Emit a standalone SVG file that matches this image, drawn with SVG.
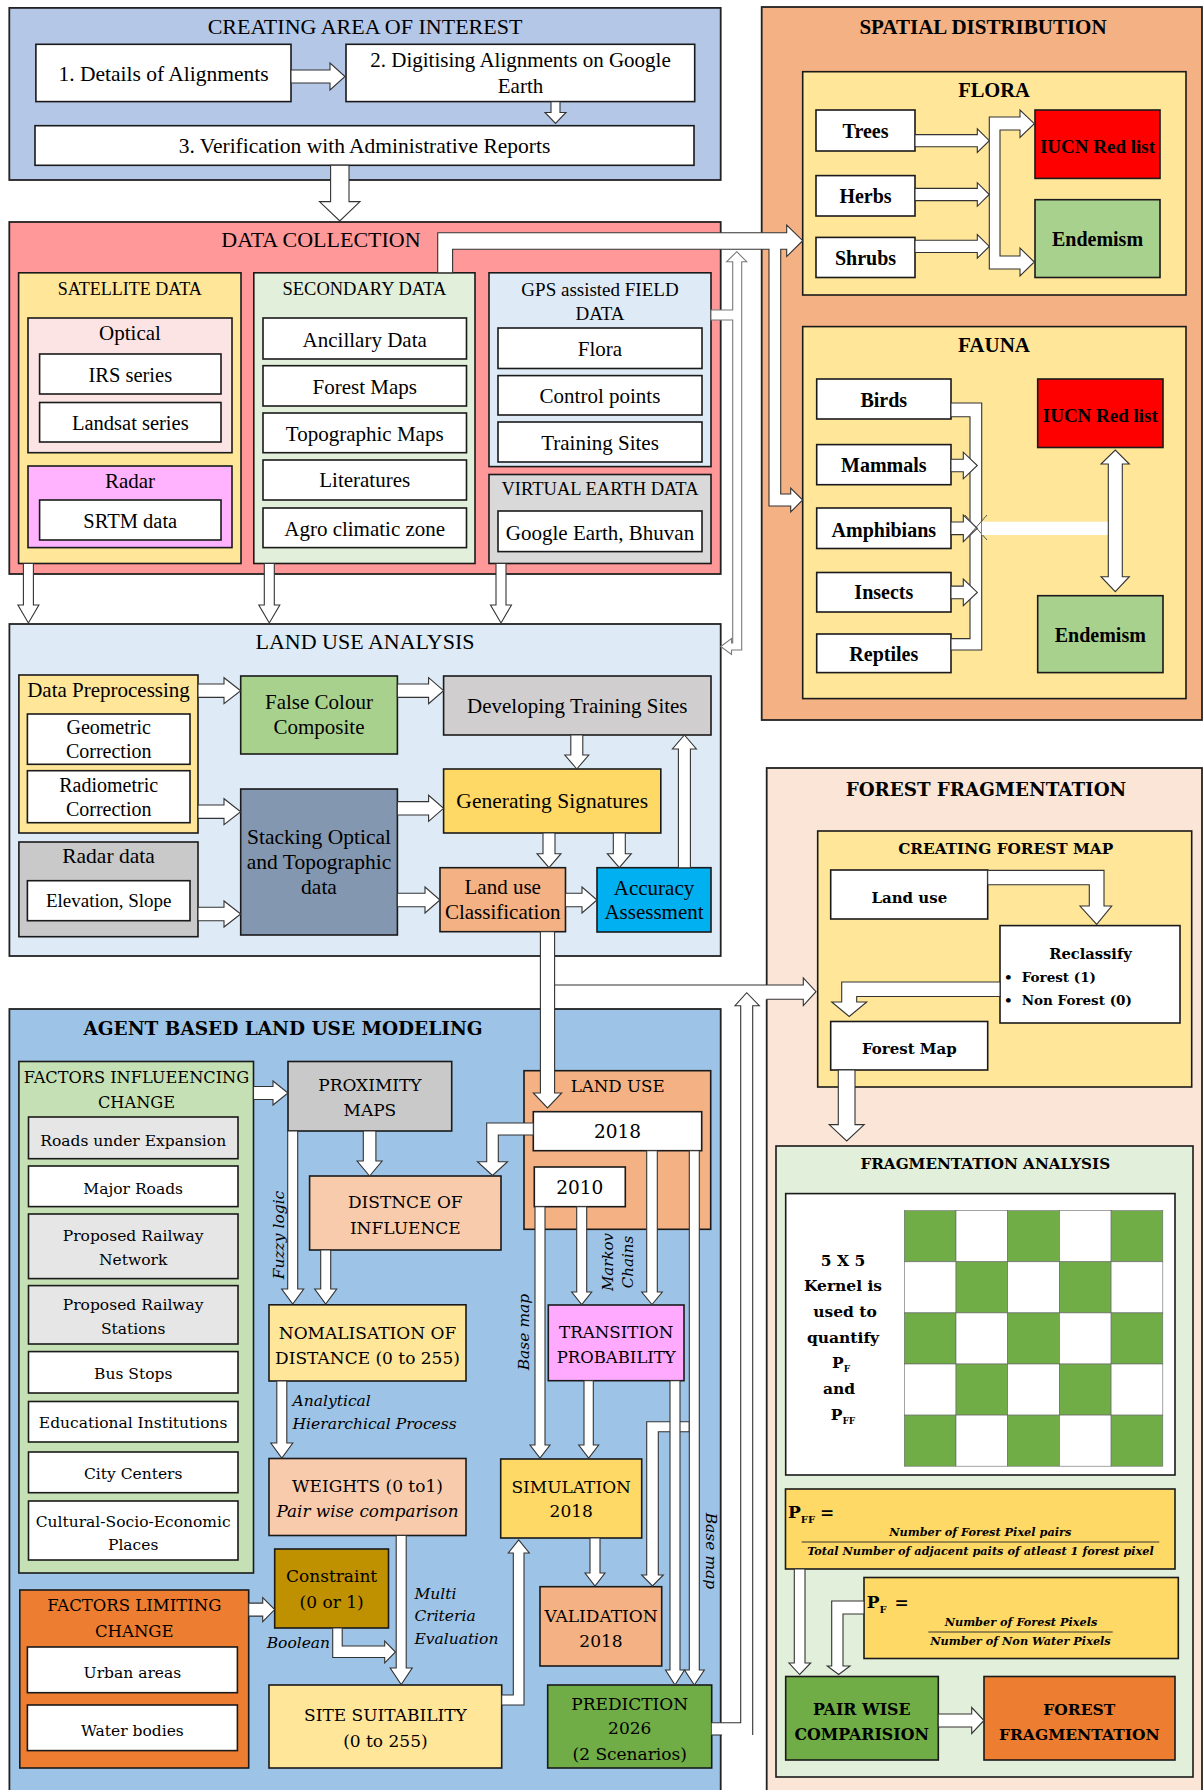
<svg xmlns="http://www.w3.org/2000/svg" width="1203" height="1790" viewBox="0 0 1203 1790">
<defs>
<style>
.sec{stroke:#222;stroke-width:1.8}
.bx{stroke:#1a1a1a;stroke-width:1.6}
.w{fill:#fff}
.ar{fill:#fff;stroke:#333;stroke-width:1.1;stroke-linejoin:miter}
.ga{fill:#fff;stroke:#7a7a7a;stroke-width:1.1}
.nf{fill:#fff;stroke:none}
.ln{fill:none;stroke:#333;stroke-width:1.1}
.cell{stroke:#666;stroke-width:0.6}
.g{fill:#70ad47}
text{fill:#000}
.t{font-family:"Liberation Serif","Times New Roman",serif}
.d{font-family:"DejaVu Serif",serif}
.c{text-anchor:middle}
.i{font-style:italic}
.b{font-weight:bold}
</style>
</defs>
<rect width="1203" height="1790" fill="#fff"/>

<!-- ============ CREATING AREA OF INTEREST ============ -->
<g id="sec-aoi"><rect class="sec" x="9.3" y="7.9" width="711.4" height="172.1" fill="#b4c7e7"/><text class="t c" x="365" y="33.5" font-size="22">CREATING AREA OF INTEREST</text></g>
<g id="n-details"><rect class="bx w" x="35.9" y="44.3" width="255.1" height="57.3"/><text class="t c" x="163.5" y="80.5" font-size="21.5">1. Details of Alignments</text></g>
<g id="n-digitising"><rect class="bx w" x="346" y="44.3" width="348.7" height="57.3"/><text class="t c" x="520.5" y="67" font-size="21">2. Digitising Alignments on Google</text><text class="t c" x="520.5" y="92.5" font-size="21">Earth</text></g>
<g id="n-verification"><rect class="bx w" x="35" y="125.7" width="659" height="39.6"/><text class="t c" x="364.5" y="152.5" font-size="21.5">3. Verification with Administrative Reports</text></g>

<!-- ============ DATA COLLECTION ============ -->
<g id="sec-data"><rect class="sec" x="9.3" y="222" width="711.4" height="352" fill="#ff9999"/><text class="t c" x="321" y="247" font-size="22">DATA COLLECTION</text></g>
<g id="n-satellite"><rect class="bx" x="18.6" y="272.8" width="222.4" height="290.7" fill="#ffe699"/><text class="t c" x="129.8" y="294.6" font-size="18">SATELLITE DATA</text></g>
<g id="n-optical"><rect class="bx" x="28" y="318" width="204" height="134.7" fill="#fce4e4"/><text class="t c" x="130" y="340" font-size="21">Optical</text></g>
<g id="n-irs"><rect class="bx w" x="39.6" y="354" width="181.4" height="40"/><text class="t c" x="130.3" y="381.5" font-size="20.5">IRS series</text></g>
<g id="n-landsat"><rect class="bx w" x="39.6" y="402.5" width="181.4" height="39.5"/><text class="t c" x="130.3" y="430" font-size="20.5">Landsat series</text></g>
<g id="n-radar"><rect class="bx" x="28" y="466" width="204" height="81.6" fill="#ffb3ff"/><text class="t c" x="130" y="487.5" font-size="21">Radar</text></g>
<g id="n-srtm"><rect class="bx w" x="39.6" y="500" width="181.4" height="40"/><text class="t c" x="130.3" y="528" font-size="20.5">SRTM data</text></g>
<g id="n-secondary"><rect class="bx" x="253.8" y="272.8" width="221.2" height="290.7" fill="#e2efda"/><text class="t c" x="364.4" y="294.6" font-size="18.5">SECONDARY DATA</text></g>
<g id="n-ancillary"><rect class="bx w" x="263" y="318" width="203.5" height="41"/><text class="t c" x="364.7" y="346.8" font-size="21">Ancillary Data</text></g>
<g id="n-forestmaps"><rect class="bx w" x="263" y="365.7" width="203.5" height="40.3"/><text class="t c" x="364.7" y="394" font-size="21">Forest Maps</text></g>
<g id="n-topo"><rect class="bx w" x="263" y="413" width="203.5" height="39.7"/><text class="t c" x="364.7" y="441" font-size="21">Topographic Maps</text></g>
<g id="n-lit"><rect class="bx w" x="263" y="460" width="203.5" height="40"/><text class="t c" x="364.7" y="487" font-size="21">Literatures</text></g>
<g id="n-agro"><rect class="bx w" x="263" y="508" width="203.5" height="39.6"/><text class="t c" x="364.7" y="535.8" font-size="21">Agro climatic zone</text></g>
<g id="n-gps"><rect class="bx" x="489" y="272.8" width="222" height="193.8" fill="#deebf7"/><text class="t c" x="600" y="295.8" font-size="19">GPS assisted FIELD</text><text class="t c" x="600" y="320.3" font-size="19">DATA</text></g>
<g id="n-flora-pt"><rect class="bx w" x="498" y="328" width="204" height="40.5"/><text class="t c" x="600" y="356" font-size="21">Flora</text></g>
<g id="n-control"><rect class="bx w" x="498" y="375.6" width="204" height="39.4"/><text class="t c" x="600" y="403.3" font-size="21">Control points</text></g>
<g id="n-training"><rect class="bx w" x="498" y="422" width="204" height="40"/><text class="t c" x="600" y="450" font-size="21">Training Sites</text></g>
<g id="n-virtual"><rect class="bx" x="489" y="474.5" width="222" height="89" fill="#d9d9d9"/><text class="t c" x="600" y="495.4" font-size="18.5">VIRTUAL EARTH DATA</text></g>
<g id="n-google"><rect class="bx w" x="498" y="511" width="204" height="40.6"/><text class="t c" x="600" y="539.7" font-size="21">Google Earth, Bhuvan</text></g>

<!-- ============ SPATIAL DISTRIBUTION ============ -->
<g id="sec-spatial"><rect class="sec" x="761.7" y="7" width="440.3" height="713" fill="#f4b183"/><text class="t c b" x="983" y="34" font-size="21">SPATIAL DISTRIBUTION</text></g>
<g id="n-flora"><rect class="bx" x="802.7" y="71.7" width="383.3" height="223.3" fill="#ffe699"/><text class="t c b" x="994" y="96.8" font-size="20.5">FLORA</text></g>
<g id="n-trees"><rect class="bx w" x="816" y="110" width="99" height="41"/><text class="t c b" x="865.5" y="138.3" font-size="20">Trees</text></g>
<g id="n-herbs"><rect class="bx w" x="816" y="175.6" width="99" height="40.4"/><text class="t c b" x="865.5" y="203" font-size="20">Herbs</text></g>
<g id="n-shrubs"><rect class="bx w" x="816" y="237.4" width="99" height="40.1"/><text class="t c b" x="865.5" y="265.3" font-size="20">Shrubs</text></g>
<g id="n-iucn-flora"><rect class="bx" x="1035" y="110" width="125" height="68.4" fill="#ff0000"/><text class="t c b" x="1097.5" y="152.5" font-size="19">IUCN Red list</text></g>
<g id="n-end-flora"><rect class="bx" x="1035" y="199.7" width="125" height="77.8" fill="#a9d18e"/><text class="t c b" x="1097.5" y="246.4" font-size="20">Endemism</text></g>
<g id="n-fauna"><rect class="bx" x="802.7" y="326.6" width="383.3" height="372" fill="#ffe699"/><text class="t c b" x="994" y="351.6" font-size="21">FAUNA</text></g>
<g id="n-birds"><rect class="bx w" x="816.7" y="379" width="134.3" height="40"/><text class="t c b" x="883.8" y="406.9" font-size="20">Birds</text></g>
<g id="n-mammals"><rect class="bx w" x="816.7" y="444.6" width="134.3" height="40.1"/><text class="t c b" x="883.8" y="472" font-size="20">Mammals</text></g>
<g id="n-amphibians"><rect class="bx w" x="816.7" y="508" width="134.3" height="40.5"/><text class="t c b" x="883.8" y="536.7" font-size="20">Amphibians</text></g>
<g id="n-insects"><rect class="bx w" x="816.7" y="572.5" width="134.3" height="39.5"/><text class="t c b" x="883.8" y="599.4" font-size="20">Insects</text></g>
<g id="n-reptiles"><rect class="bx w" x="816.7" y="634" width="134.3" height="38.6"/><text class="t c b" x="883.8" y="660.8" font-size="20">Reptiles</text></g>
<g id="n-iucn-fauna"><rect class="bx" x="1037.7" y="379" width="125.3" height="68.5" fill="#ff0000"/><text class="t c b" x="1100.3" y="421.5" font-size="19">IUCN Red list</text></g>
<g id="n-end-fauna"><rect class="bx" x="1037.7" y="595.7" width="125.3" height="76.9" fill="#a9d18e"/><text class="t c b" x="1100.3" y="642" font-size="20">Endemism</text></g>

<!-- ============ LAND USE ANALYSIS ============ -->
<g id="sec-lua"><rect class="sec" x="9.4" y="624" width="711.3" height="332" fill="#deebf7"/><text class="t c" x="365" y="649.3" font-size="22">LAND USE ANALYSIS</text></g>
<g id="n-preproc"><rect class="bx" x="18.9" y="675" width="179.1" height="158" fill="#ffe699"/><text class="t c" x="108.5" y="696.7" font-size="21">Data Preprocessing</text></g>
<g id="n-geometric"><rect class="bx w" x="27.4" y="714" width="162.6" height="50.3"/><text class="t c" x="108.7" y="734.3" font-size="20">Geometric</text><text class="t c" x="108.7" y="757.7" font-size="20">Correction</text></g>
<g id="n-radiometric"><rect class="bx w" x="27.4" y="770.7" width="162.6" height="52"/><text class="t c" x="108.7" y="792.3" font-size="20">Radiometric</text><text class="t c" x="108.7" y="815.7" font-size="20">Correction</text></g>
<g id="n-radardata"><rect class="bx" x="18.9" y="842" width="179.1" height="94.7" fill="#c9c9c9"/><text class="t c" x="108.5" y="863.3" font-size="21.5">Radar data</text></g>
<g id="n-elevation"><rect class="bx w" x="27.4" y="880.7" width="162.6" height="40"/><text class="t c" x="108.7" y="907.3" font-size="19">Elevation, Slope</text></g>
<g id="n-fcc"><rect class="bx" x="240.7" y="676" width="156.7" height="78" fill="#a9d18e"/><text class="t c" x="319" y="709.3" font-size="21">False Colour</text><text class="t c" x="319" y="734" font-size="21">Composite</text></g>
<g id="n-stacking"><rect class="bx" x="240.7" y="789" width="156.7" height="146" fill="#8497b0"/><text class="t c" x="319" y="844" font-size="21.5">Stacking Optical</text><text class="t c" x="319" y="869.3" font-size="21.5">and Topographic</text><text class="t c" x="319" y="894" font-size="21.5">data</text></g>
<g id="n-dts"><rect class="bx" x="443.6" y="676" width="267.4" height="59" fill="#d0cece"/><text class="t c" x="577.3" y="713.3" font-size="21">Developing Training Sites</text></g>
<g id="n-gensig"><rect class="bx" x="443.6" y="769" width="217.2" height="64" fill="#ffd966"/><text class="t c" x="552.2" y="808.3" font-size="21.5">Generating Signatures</text></g>
<g id="n-luc"><rect class="bx" x="440" y="867.7" width="125.5" height="64" fill="#f4b183"/><text class="t c" x="502.7" y="894" font-size="21">Land use</text><text class="t c" x="502.7" y="919.3" font-size="21">Classification</text></g>
<g id="n-accuracy"><rect class="bx" x="597" y="867.7" width="114" height="64.3" fill="#00b0f0"/><text class="t c" x="654" y="895" font-size="21">Accuracy</text><text class="t c" x="654" y="919.3" font-size="21">Assessment</text></g>

<!-- ============ AGENT BASED LAND USE MODELING ============ -->
<g id="sec-agent"><rect class="sec" x="9.4" y="1009" width="711.3" height="790" fill="#9dc3e6"/><text class="d c b" x="283" y="1035.3" font-size="18.5">AGENT BASED LAND USE MODELING</text></g>
<g id="n-fic"><rect class="bx" x="18.9" y="1061.5" width="234.6" height="511.5" fill="#c5e0b4"/><text class="d c" x="136.5" y="1083" font-size="16.2">FACTORS INFLUEENCING</text><text class="d c" x="136.5" y="1108.3" font-size="16.2">CHANGE</text></g>
<g id="n-roads-exp"><rect class="bx" x="28.5" y="1117" width="209.5" height="41.7" fill="#e7e6e6"/><text class="d c" x="133.2" y="1146" font-size="15.5">Roads under Expansion</text></g>
<g id="n-major-roads"><rect class="bx w" x="28.5" y="1166" width="209.5" height="40.6"/><text class="d c" x="133.2" y="1194" font-size="15.5">Major Roads</text></g>
<g id="n-rail-net"><rect class="bx" x="28.5" y="1214" width="209.5" height="64.6" fill="#e7e6e6"/><text class="d c" x="133.2" y="1240.8" font-size="15.5">Proposed Railway</text><text class="d c" x="133.2" y="1264.5" font-size="15.5">Network</text></g>
<g id="n-rail-st"><rect class="bx" x="28.5" y="1285.6" width="209.5" height="58.4" fill="#e7e6e6"/><text class="d c" x="133.2" y="1309.8" font-size="15.5">Proposed Railway</text><text class="d c" x="133.2" y="1333.5" font-size="15.5">Stations</text></g>
<g id="n-bus"><rect class="bx w" x="28.5" y="1351.6" width="209.5" height="41.4"/><text class="d c" x="133.2" y="1379.4" font-size="15.5">Bus Stops</text></g>
<g id="n-edu"><rect class="bx w" x="28.5" y="1401.5" width="209.5" height="40.5"/><text class="d c" x="133.2" y="1428.2" font-size="15.5">Educational Institutions</text></g>
<g id="n-city"><rect class="bx w" x="28.5" y="1452" width="209.5" height="40.7"/><text class="d c" x="133.2" y="1478.6" font-size="15.5">City Centers</text></g>
<g id="n-cultural"><rect class="bx w" x="28.5" y="1501" width="209.5" height="59"/><text class="d c" x="133.2" y="1526.5" font-size="15.5">Cultural-Socio-Economic</text><text class="d c" x="133.2" y="1550" font-size="15.5">Places</text></g>
<g id="n-flc"><rect class="bx" x="19.8" y="1590" width="228.9" height="178" fill="#ed7d31"/><text class="d c" x="134.3" y="1611" font-size="16.5">FACTORS LIMITING</text><text class="d c" x="134.3" y="1637.3" font-size="16.5">CHANGE</text></g>
<g id="n-urban"><rect class="bx w" x="27.4" y="1647" width="210" height="45.7"/><text class="d c" x="132.4" y="1677.6" font-size="15.5">Urban areas</text></g>
<g id="n-water"><rect class="bx w" x="27.4" y="1705" width="210" height="45.6"/><text class="d c" x="132.4" y="1735.5" font-size="15.5">Water bodies</text></g>
<g id="n-proximity"><rect class="bx" x="288" y="1061.5" width="163.7" height="69.5" fill="#c9c9c9"/><text class="d c" x="369.9" y="1090.7" font-size="17">PROXIMITY</text><text class="d c" x="369.9" y="1115.9" font-size="17">MAPS</text></g>
<g id="n-distance"><rect class="bx" x="309.6" y="1176" width="191.4" height="74" fill="#f8cbad"/><text class="d c" x="405.3" y="1208" font-size="17">DISTNCE OF</text><text class="d c" x="405.3" y="1234.3" font-size="17">INFLUENCE</text></g>
<g id="n-normal"><rect class="bx" x="269" y="1304.8" width="197" height="76.2" fill="#ffe699"/><text class="d c" x="367.5" y="1338.6" font-size="17">NOMALISATION OF</text><text class="d c" x="367.5" y="1363.7" font-size="17">DISTANCE (0 to 255)</text></g>
<g id="n-weights"><rect class="bx" x="269" y="1458.5" width="197" height="77" fill="#f8cbad"/><text class="d c" x="367.5" y="1492.2" font-size="17">WEIGHTS (0 to1)</text><text class="d c i" x="367.5" y="1517.4" font-size="16.8">Pair wise comparison</text></g>
<g id="n-constraint"><rect class="bx" x="274.7" y="1549" width="113.8" height="79" fill="#bf9000"/><text class="d c" x="331.6" y="1581.9" font-size="17">Constraint</text><text class="d c" x="331.6" y="1608" font-size="17">(0 or 1)</text></g>
<g id="n-site"><rect class="bx" x="269" y="1685" width="232.7" height="83" fill="#ffe699"/><text class="d c" x="385.4" y="1721.4" font-size="17">SITE SUITABILITY</text><text class="d c" x="385.4" y="1746.6" font-size="17">(0 to 255)</text></g>
<g id="n-landuse"><rect class="bx" x="524" y="1070.7" width="186.7" height="158.6" fill="#f4b183"/><text class="d c" x="617.7" y="1091.7" font-size="16.7">LAND USE</text></g>
<g id="n-2018"><rect class="bx w" x="533.3" y="1111.7" width="168.4" height="39"/><text class="d c" x="617.5" y="1138.3" font-size="18.5">2018</text></g>
<g id="n-2010"><rect class="bx w" x="534.3" y="1167" width="91" height="39.7"/><text class="d c" x="579.8" y="1194" font-size="18.5">2010</text></g>
<g id="n-transition"><rect class="bx" x="548.3" y="1305" width="135.7" height="75.7" fill="#ffaaff"/><text class="d c" x="616.2" y="1338.3" font-size="16.7">TRANSITION</text><text class="d c" x="616.2" y="1363.3" font-size="16.5">PROBABILITY</text></g>
<g id="n-simulation"><rect class="bx" x="500.7" y="1459" width="141" height="79" fill="#ffd966"/><text class="d c" x="571.2" y="1493.3" font-size="17">SIMULATION</text><text class="d c" x="571.2" y="1517.3" font-size="17">2018</text></g>
<g id="n-validation"><rect class="bx" x="540" y="1586.7" width="121.7" height="79.3" fill="#f4b183"/><text class="d c" x="601" y="1621.7" font-size="17">VALIDATION</text><text class="d c" x="601" y="1646.7" font-size="17">2018</text></g>
<g id="n-prediction"><rect class="bx" x="547.7" y="1685" width="164" height="83" fill="#70ad47"/><text class="d c" x="629.7" y="1710" font-size="17">PREDICTION</text><text class="d c" x="629.7" y="1734" font-size="17">2026</text><text class="d c" x="629.7" y="1760" font-size="17">(2 Scenarios)</text></g>

<!-- ============ FOREST FRAGMENTATION ============ -->
<g id="sec-ff"><rect class="sec" x="766.7" y="768" width="435.3" height="1030" fill="#fbe5d6"/><text class="d c b" x="986" y="796" font-size="18.3">FOREST FRAGMENTATION</text></g>
<g id="n-cfm"><rect class="bx" x="817.7" y="831" width="374" height="256" fill="#ffe699"/><text class="d c b" x="1005.7" y="854" font-size="15.3">CREATING FOREST MAP</text></g>
<g id="n-fm-landuse"><rect class="bx w" x="830.7" y="870" width="157" height="49"/><text class="d c b" x="909.3" y="903.2" font-size="15">Land use</text></g>
<g id="n-reclassify"><rect class="bx w" x="1000" y="925.6" width="180" height="97.4"/><text class="d c b" x="1090.5" y="959" font-size="14.7">Reclassify</text><text class="d b" x="1004" y="982" font-size="13.5">•</text><text class="d b" x="1021.7" y="982" font-size="13.5">Forest (1)</text><text class="d b" x="1004" y="1005" font-size="13.5">•</text><text class="d b" x="1021.7" y="1005" font-size="13.5">Non Forest (0)</text></g>
<g id="n-forestmap"><rect class="bx w" x="830.7" y="1021.5" width="157" height="48.5"/><text class="d c b" x="909.3" y="1054.3" font-size="15">Forest Map</text></g>
<g id="n-fa"><rect class="bx" x="776" y="1146" width="417" height="631" fill="#e2efda"/><text class="d c b" x="985.3" y="1168.6" font-size="15.2">FRAGMENTATION ANALYSIS</text></g>
<g id="n-kernel">
<rect class="bx w" x="785.7" y="1193.6" width="389.3" height="281.4"/>
<text class="d c b" x="843" y="1266" font-size="15.5">5 X 5</text>
<text class="d c b" x="843" y="1291" font-size="15.5">Kernel is</text>
<text class="d c b" x="845" y="1317" font-size="15.5">used to</text>
<text class="d c b" x="843" y="1343" font-size="15.5">quantify</text>
<text class="d c b" x="841" y="1368" font-size="15.5">P<tspan font-size="9" dy="4">F</tspan></text>
<text class="d c b" x="839" y="1394" font-size="15.5">and</text>
<text class="d c b" x="843" y="1420" font-size="15.5">P<tspan font-size="9" dy="4">FF</tspan></text>
<rect class="cell g" x="904.3" y="1210.7" width="51.7" height="51.1"/><rect class="cell w" x="956" y="1210.7" width="51.7" height="51.1"/><rect class="cell g" x="1007.7" y="1210.7" width="51.7" height="51.1"/><rect class="cell w" x="1059.4" y="1210.7" width="51.7" height="51.1"/><rect class="cell g" x="1111.1" y="1210.7" width="51.7" height="51.1"/>
<rect class="cell w" x="904.3" y="1261.8" width="51.7" height="51.1"/><rect class="cell g" x="956" y="1261.8" width="51.7" height="51.1"/><rect class="cell w" x="1007.7" y="1261.8" width="51.7" height="51.1"/><rect class="cell g" x="1059.4" y="1261.8" width="51.7" height="51.1"/><rect class="cell w" x="1111.1" y="1261.8" width="51.7" height="51.1"/>
<rect class="cell g" x="904.3" y="1312.9" width="51.7" height="51.1"/><rect class="cell w" x="956" y="1312.9" width="51.7" height="51.1"/><rect class="cell g" x="1007.7" y="1312.9" width="51.7" height="51.1"/><rect class="cell w" x="1059.4" y="1312.9" width="51.7" height="51.1"/><rect class="cell g" x="1111.1" y="1312.9" width="51.7" height="51.1"/>
<rect class="cell w" x="904.3" y="1364" width="51.7" height="51.1"/><rect class="cell g" x="956" y="1364" width="51.7" height="51.1"/><rect class="cell w" x="1007.7" y="1364" width="51.7" height="51.1"/><rect class="cell g" x="1059.4" y="1364" width="51.7" height="51.1"/><rect class="cell w" x="1111.1" y="1364" width="51.7" height="51.1"/>
<rect class="cell g" x="904.3" y="1415.1" width="51.7" height="51.1"/><rect class="cell w" x="956" y="1415.1" width="51.7" height="51.1"/><rect class="cell g" x="1007.7" y="1415.1" width="51.7" height="51.1"/><rect class="cell w" x="1059.4" y="1415.1" width="51.7" height="51.1"/><rect class="cell g" x="1111.1" y="1415.1" width="51.7" height="51.1"/>
</g>
<g id="n-pff"><rect class="bx" x="785.5" y="1489" width="389.5" height="80" fill="#ffd966"/>
<text class="d b" x="788" y="1518" font-size="17">P<tspan font-size="10" dy="5">FF</tspan><tspan dy="-5" dx="5">=</tspan></text>
<text class="d c b i" x="980.3" y="1536" font-size="11.3">Number of Forest Pixel pairs</text>
<line class="ln" x1="801.7" y1="1542" x2="1159.3" y2="1542" stroke="#000"/>
<text class="d c b i" x="980.5" y="1554.5" font-size="11.3">Total Number of adjacent paits of atleast 1 forest pixel</text></g>
<g id="n-pf"><rect class="bx" x="864" y="1577.5" width="314.3" height="81" fill="#ffd966"/>
<text class="d b" x="866.7" y="1608" font-size="17">P<tspan font-size="10" dy="5">F</tspan><tspan dy="-5" dx="8">=</tspan></text>
<text class="d c b i" x="1021" y="1626" font-size="11.3">Number of Forest Pixels</text>
<line class="ln" x1="928.3" y1="1632" x2="1112.7" y2="1632" stroke="#000"/>
<text class="d c b i" x="1020.5" y="1644.5" font-size="11.3">Number of Non Water Pixels</text></g>
<g id="n-pairwise"><rect class="bx" x="785.7" y="1676.5" width="152.6" height="83.5" fill="#70ad47"/><text class="d c b" x="861.7" y="1715" font-size="15.8">PAIR WISE</text><text class="d c b" x="861.7" y="1740" font-size="15.8">COMPARISION</text></g>
<g id="n-forestfrag"><rect class="bx" x="984" y="1676.5" width="191" height="83.5" fill="#ed7d31"/><text class="d c b" x="1079.3" y="1715" font-size="15.5">FOREST</text><text class="d c b" x="1079.3" y="1740" font-size="15.5">FRAGMENTATION</text></g>

<!-- ============ CONNECTORS ============ -->
<g id="connectors">
<!-- area of interest -->
<polygon class="ar" points="291,70 330,70 330,63 345,76.5 330,90 330,83 291,83"/>
<polygon class="ar" points="551,101.6 560,101.6 560,112.5 566,112.5 555.5,123.5 545,112.5 551,112.5"/>
<polygon class="ar" points="330.6,165.3 349,165.3 349,201.6 360,201.6 339.8,221 319.5,201.6 330.6,201.6"/>
<!-- data collection to land use analysis -->
<polygon class="ar" points="23.4,563.5 33.4,563.5 33.4,605 38.9,605 28.4,623 17.9,605 23.4,605"/>
<polygon class="ar" points="264.3,563.5 274.3,563.5 274.3,605 279.8,605 269.3,623 258.8,605 264.3,605"/>
<polygon class="ar" points="496,563.5 506,563.5 506,605 511.5,605 501,623 490.5,605 496,605"/>
<!-- secondary data to flora & fauna -->
<polygon class="ar" points="437.7,272.8 437.7,232.7 786.7,232.7 786.7,225 802.7,240.7 786.7,256.5 786.7,249.3 780.7,249.3 780.7,494 790.7,494 790.7,488 802.7,500 790.7,512 790.7,506 769,506 769,249.3 452.6,249.3 452.6,272.8"/>
<!-- GPS field data to land use analysis (two way) -->
<polygon class="ga" points="736.7,251.7 746.7,261.7 741.7,261.7 741.7,650 731.5,650 731.5,654.5 720.7,646.5 731.5,638.5 731.5,643 732.7,643 732.7,320 711,320 711,310 732.7,310 732.7,261.7 726.7,261.7"/>
<!-- flora -->
<polygon class="ar" points="915,134.6 977.3,134.6 977.3,128.9 989.3,140.7 977.3,152.5 977.3,146.8 915,146.8"/>
<polygon class="ar" points="915,188.4 977.3,188.4 977.3,182.7 989.3,194.5 977.3,206.3 977.3,200.6 915,200.6"/>
<polygon class="ar" points="915,240.3 977.3,240.3 977.3,234.6 989.3,246.4 977.3,258.2 977.3,252.5 915,252.5"/>
<polygon class="ar" points="989.3,117 1020,117 1020,110 1034.3,123.7 1020,137.5 1020,130 1000,130 1000,256 1020,256 1020,248 1034.3,262 1020,276 1020,269 989.3,269"/>
<!-- fauna -->
<polygon class="ar" points="951,403 981.7,403 981.7,650 951,650 951,638.6 970,638.6 970,416.7 951,416.7"/>
<polygon class="ar" points="951,459.2 963.3,459.2 963.3,452.2 977.3,465.5 963.3,478.8 963.3,471.8 951,471.8"/>
<polygon class="ar" points="951,522 963.3,522 963.3,515 977.3,528.3 963.3,541.6 963.3,534.6 951,534.6"/>
<polygon class="ar" points="951,586.1 963.3,586.1 963.3,579.1 977.3,592.4 963.3,605.7 963.3,598.7 951,598.7"/>
<line x1="965" y1="515" x2="987" y2="540" stroke="#555" stroke-width="1"/>
<line x1="965" y1="540" x2="987" y2="515" stroke="#555" stroke-width="1"/>
<rect class="nf" x="981.7" y="521.7" width="126.6" height="13.3"/>
<polygon class="ar" points="1108.3,464 1101,464 1115.3,450 1129.3,464 1122.3,464 1122.3,576.7 1129.3,576.7 1115.3,591.7 1101,576.7 1108.3,576.7"/>
<!-- land use analysis -->
<polygon class="ar" points="198,684 224,684 224,677.7 240.7,690.7 224,703.7 224,697.4 198,697.4"/>
<polygon class="ar" points="397.4,684 428.6,684 428.6,677.7 443.6,690.7 428.6,703.7 428.6,697.4 397.4,697.4"/>
<polygon class="ar" points="198,805 224,805 224,798.7 240.7,811.7 224,824.7 224,818.4 198,818.4"/>
<polygon class="ar" points="198,907.3 224,907.3 224,901 240.7,914 224,927 224,920.7 198,920.7"/>
<polygon class="ar" points="397.4,801.6 428.6,801.6 428.6,795.3 443.6,808.3 428.6,821.3 428.6,815 397.4,815"/>
<polygon class="ar" points="397.4,893.3 425,893.3 425,887 440,900 425,913 425,906.7 397.4,906.7"/>
<polygon class="ar" points="565.5,893.3 582,893.3 582,887 597,900 582,913 582,906.7 565.5,906.7"/>
<polygon class="ar" points="570.8,735 582.8,735 582.8,755 588.8,755 576.8,769 564.8,755 570.8,755"/>
<polygon class="ar" points="543,833 555,833 555,853.7 561,853.7 549,867.7 537,853.7 543,853.7"/>
<polygon class="ar" points="613.3,833 625.3,833 625.3,853.7 631.3,853.7 619.3,867.7 607.3,853.7 613.3,853.7"/>
<polygon class="ar" points="678.4,867.7 678.4,749 672.4,749 684.4,735 696.4,749 690.4,749 690.4,867.7"/>
<!-- land use classification to forest map and to land use 2018 -->
<polygon class="nf" points="554.6,985 803.3,985 803.3,978 816,991.7 803.3,1005.7 803.3,999.3 554.6,999.3"/>
<polyline class="ln" points="554.6,985 803.3,985 803.3,978 816,991.7 803.3,1005.7 803.3,999.3 766.7,999.3"/>
<polygon class="ar" points="540.4,931.7 554.6,931.7 554.6,1093 561.7,1093 547.5,1108 533.3,1093 540.4,1093"/>
<!-- prediction feedback up -->
<polygon class="nf" points="711.7,1722.7 740.7,1722.7 740.7,1005.7 735,1005.7 746.7,992.7 759.3,1005.7 752.7,1005.7 752.7,1735 711.7,1735"/>
<polyline class="ln" points="711.7,1722.7 740.7,1722.7 740.7,1005.7 735,1005.7 746.7,992.7 759.3,1005.7 752.7,1005.7 752.7,1735"/>
<line class="ln" x1="711.7" y1="1735" x2="722" y2="1735"/>
<!-- agent based modeling -->
<polygon class="ar" points="253.5,1086.5 273,1086.5 273,1081 288,1093 273,1105 273,1099.5 253.5,1099.5"/>
<polygon class="ar" points="363.3,1131 375.9,1131 375.9,1161 382.1,1161 369.6,1176 357.1,1161 363.3,1161"/>
<polygon class="ar" points="287.7,1131 297.7,1131 297.7,1289 303.7,1289 292.7,1304 281.7,1289 287.7,1289"/>
<polygon class="ar" points="320.7,1250 330.7,1250 330.7,1289 336.7,1289 325.7,1304 314.7,1289 320.7,1289"/>
<polygon class="ar" points="533.3,1123 486.7,1123 486.7,1161.7 477.5,1161.7 492.5,1175.5 507.5,1161.7 498.3,1161.7 498.3,1135 533.3,1135"/>
<polygon class="ar" points="276.8,1381 286.8,1381 286.8,1443 292.8,1443 281.8,1458 270.8,1443 276.8,1443"/>
<polygon class="ar" points="396.2,1535.5 406.2,1535.5 406.2,1668 412.2,1668 401.2,1684.5 390.2,1668 396.2,1668"/>
<polygon class="ar" points="332.7,1628 332.7,1657.5 384.7,1657.5 384.7,1663 395.5,1652 384.7,1641 384.7,1646 342.2,1646 342.2,1628"/>
<polygon class="ar" points="248.7,1603.1 262.7,1603.1 262.7,1597.6 274.7,1609.6 262.7,1621.6 262.7,1616.1 248.7,1616.1"/>
<polygon class="ar" points="501.7,1695 513.3,1695 513.3,1553 508.3,1553 518.7,1540 529.3,1553 524,1553 524,1705 501.7,1705"/>
<polygon class="ar" points="535,1206.7 545,1206.7 545,1445 550,1445 540,1458 530,1445 535,1445"/>
<polygon class="ar" points="576.7,1206.7 586.7,1206.7 586.7,1292 591.7,1292 581.7,1304.5 571.7,1292 576.7,1292"/>
<polygon class="ar" points="646.7,1150.7 657.3,1150.7 657.3,1292 662.3,1292 652,1304.5 641.7,1292 646.7,1292"/>
<polygon class="ar" points="689.3,1421.7 646.7,1421.7 646.7,1575 641.7,1575 652.5,1586 663.3,1575 658.3,1575 658.3,1431.7 689.3,1431.7"/>
<polygon class="ar" points="689.3,1150.7 699.3,1150.7 699.3,1670 704.3,1670 694.3,1685 684.5,1670 689.3,1670"/>
<polygon class="ar" points="670,1380.7 680,1380.7 680,1670 684.5,1670 675,1685 665.5,1670 670,1670"/>
<polygon class="ar" points="584,1380.7 593.3,1380.7 593.3,1445 598.7,1445 588.7,1458 578.7,1445 584,1445"/>
<polygon class="ar" points="590,1538 600,1538 600,1573 605,1573 595,1586 585,1573 590,1573"/>
<!-- forest map creation -->
<polygon class="ar" points="987.7,870.4 1104,870.4 1104,906 1111.7,906 1096.7,924.3 1080,906 1089.3,906 1089.3,884.8 987.7,884.8"/>
<polygon class="ar" points="1000,982 841.7,982 841.7,1002 831.7,1002 849.2,1016.5 866.7,1002 856.7,1002 856.7,996.5 1000,996.5"/>
<polygon class="ar" points="838.3,1070 855,1070 855,1124.6 864.2,1124.6 846.7,1141 829.2,1124.6 838.3,1124.6"/>
<!-- fragmentation analysis -->
<polygon class="ar" points="794.3,1569 805,1569 805,1663 810.7,1663 799.7,1674.5 789,1663 794.3,1663"/>
<polygon class="ar" points="864,1601 831.7,1601 831.7,1666 827.3,1666 838.7,1674.5 850,1666 843,1666 843,1614 864,1614"/>
<polygon class="ar" points="938.3,1714 971.7,1714 971.7,1707.5 984,1720.5 971.7,1733.5 971.7,1727 938.3,1727"/>
<!-- connector labels -->
<text class="d i" transform="translate(284,1235) rotate(-90)" text-anchor="middle" font-size="15.5">Fuzzy logic</text>
<text class="d i" transform="translate(529,1332) rotate(-90)" text-anchor="middle" font-size="15.5">Base map</text>
<text class="d i" transform="translate(613,1262) rotate(-90)" text-anchor="middle" font-size="15">Markov</text>
<text class="d i" transform="translate(633,1262) rotate(-90)" text-anchor="middle" font-size="15">Chains</text>
<text class="d i" transform="translate(706,1551) rotate(90)" text-anchor="middle" font-size="15.5">Base map</text>
<text class="d i" x="292.6" y="1406" font-size="15.5">Analytical</text>
<text class="d i" x="292.6" y="1428.5" font-size="15.5">Hierarchical Process</text>
<text class="d i" x="414.4" y="1598.5" font-size="15.5">Multi</text>
<text class="d i" x="414.4" y="1621" font-size="15.5">Criteria</text>
<text class="d i" x="414.4" y="1644" font-size="15.5">Evaluation</text>
<text class="d i" x="266.7" y="1648" font-size="15.5">Boolean</text>
</g>
</svg>
